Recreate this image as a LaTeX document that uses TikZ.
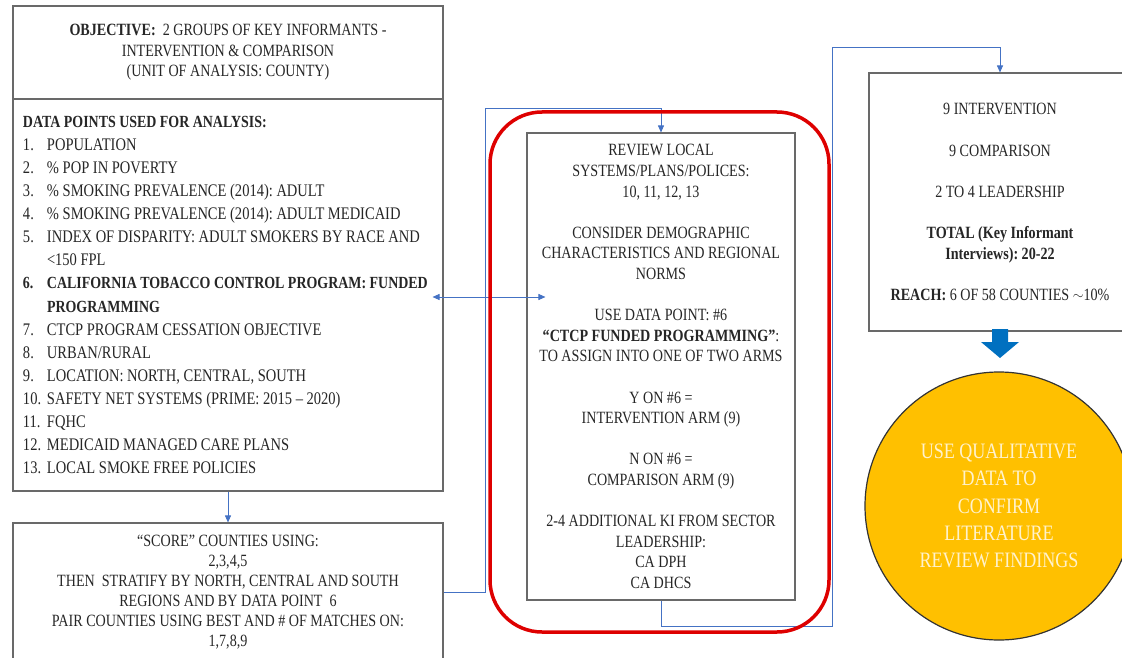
\documentclass[tikz,border=0pt]{standalone}
\usepackage{fontspec}
\setmainfont{Liberation Serif}[FakeStretch=0.82]
\usetikzlibrary{arrows.meta}
\definecolor{boxgray}{RGB}{105,105,105}
\definecolor{linkblue}{RGB}{68,114,196}
\definecolor{redring}{RGB}{222,0,0}
\definecolor{gold}{RGB}{255,192,0}
\definecolor{paletext}{RGB}{255,242,204}
\definecolor{bluearrow}{RGB}{0,112,192}
\definecolor{txt}{RGB}{38,38,38}
\frenchspacing
\newcommand{\itm}[2]{\makebox[24pt][l]{#1}#2}
\newcommand{\bfsmall}{\fontsize{17}{23.1}\selectfont\bfseries}
\begin{document}
\begin{tikzpicture}[x=1pt,y=-1pt,
  box/.style={draw=boxgray,line width=1.1pt,fill=white,text=txt,inner sep=0pt},
  ctext/.style={align=center,font=\fontsize{17.2}{20.6}\selectfont},
  link/.style={draw=linkblue,line width=0.9pt},
  tipend/.style={-{Triangle[length=7pt,width=6pt]}},
  tipboth/.style={{Triangle[length=7pt,width=6pt]}-{Triangle[length=7pt,width=6pt]}}
]
\useasboundingbox (0,0) rectangle (1122,658);
\clip (0,0) rectangle (1122,658);

% coordinates for connector bends
\coordinate (c1) at (485,108);
\coordinate (c2) at (832,626);
\coordinate (c3) at (832,47);

% boxes
\node[box, ctext, minimum width=430pt, minimum height=93pt] (obj) at (228,52.5)
 {\textbf{OBJECTIVE:}~ 2 GROUPS OF KEY INFORMANTS -\\INTERVENTION \& COMPARISON\\(UNIT OF ANALYSIS: COUNTY)};

\node[box, minimum height=392pt, text width=410pt, inner xsep=10pt, align=flush left,
      font=\fontsize{17.7}{23.1}\selectfont] (data) at (228,295)
 {{\bfsmall DATA POINTS USED FOR ANALYSIS:}\\
  \itm{1.}{POPULATION}\\
  \itm{2.}{\% POP IN POVERTY}\\
  \itm{3.}{\% SMOKING PREVALENCE (2014): ADULT}\\
  \itm{4.}{\% SMOKING PREVALENCE (2014): ADULT MEDICAID}\\
  \itm{5.}{INDEX OF DISPARITY: ADULT SMOKERS BY RACE AND}\\
  \hspace*{24pt}<150 FPL\\
  \makebox[0pt][l]{\bfsmall\itm{6.}{CALIFORNIA TOBACCO CONTROL PROGRAM: FUNDED}}\\
  \hspace*{24pt}{\bfsmall PROGRAMMING}\\
  \itm{7.}{CTCP PROGRAM CESSATION OBJECTIVE}\\
  \itm{8.}{URBAN/RURAL}\\
  \itm{9.}{LOCATION: NORTH, CENTRAL, SOUTH}\\
  \itm{10.}{SAFETY NET SYSTEMS (PRIME: 2015 – 2020)}\\
  \itm{11.}{FQHC}\\
  \itm{12.}{MEDICAID MANAGED CARE PLANS}\\
  \itm{13.}{LOCAL SMOKE FREE POLICIES}};

\node[box, align=center, font=\fontsize{17.2}{20}\selectfont, minimum width=430pt, minimum height=138pt] (score) at (228,592)
 {“SCORE” COUNTIES USING:\\2,3,4,5\\THEN~ STRATIFY BY NORTH, CENTRAL AND SOUTH\\REGIONS AND BY DATA POINT~ 6\\PAIR COUNTIES USING BEST AND \# OF MATCHES ON:\\1,7,8,9};

\node[box, ctext, minimum width=268pt, minimum height=467pt] (center) at (661,366.5)
 {REVIEW LOCAL\\SYSTEMS/PLANS/POLICES:\\10, 11, 12, 13\\[20.6pt]
  CONSIDER DEMOGRAPHIC\\CHARACTERISTICS AND REGIONAL\\NORMS\\[20.6pt]
  USE DATA POINT: \#6\\\textbf{“CTCP FUNDED PROGRAMMING”}:\\TO ASSIGN INTO ONE OF TWO ARMS\\[20.6pt]
  Y ON \#6 =\\INTERVENTION ARM (9)\\[20.6pt]
  N ON \#6 =\\COMPARISON ARM (9)\\[20.6pt]
  2-4 ADDITIONAL KI FROM SECTOR\\LEADERSHIP:\\CA DPH\\CA DHCS};

\node[box, ctext, minimum width=262pt, minimum height=258pt] (right) at (1000,202)
 {9 INTERVENTION\\[20.6pt]9 COMPARISON\\[20.6pt]2 TO 4 LEADERSHIP\\[20.6pt]
  \textbf{TOTAL (Key Informant}\\\textbf{Interviews): 20-22}\\[20.6pt]
  \textbf{REACH:} 6 OF 58 COUNTIES \raisebox{0.5pt}{\scalebox{0.8}{$\sim$}}10\%};

% connectors
\draw[link,tipend] (data.south) -- (score.north);
\draw[link,tipend] (score.east) -| (c1) -| (center.north);
\draw[link,tipend] (center.south) |- (c2) -- (c3) -| (right.north);
\coordinate (dL) at ([shift={(-11,2)}]data.east);
\coordinate (cL) at ([xshift=19pt]center.west);
\draw[link,tipboth] (dL) -- (dL -| cL);

% red highlight ring
\draw[redring, line width=3.5pt, rounded corners=52pt] (490,112) rectangle (829,632);

% block arrow
\fill[bluearrow] (992,329) -- (992,342) -- (981,342) -- (1000,358) -- (1019,342) -- (1008,342) -- (1008,329) -- cycle;

% circle
\node[circle, draw=black!80, line width=1.2pt, fill=gold, minimum size=268pt, inner sep=0pt,
      text=paletext, align=center, font=\fontsize{22}{27.3}\selectfont] (goal) at (999,506)
 {USE QUALITATIVE\\DATA TO\\CONFIRM\\LITERATURE\\REVIEW FINDINGS};
\end{tikzpicture}
\end{document}
